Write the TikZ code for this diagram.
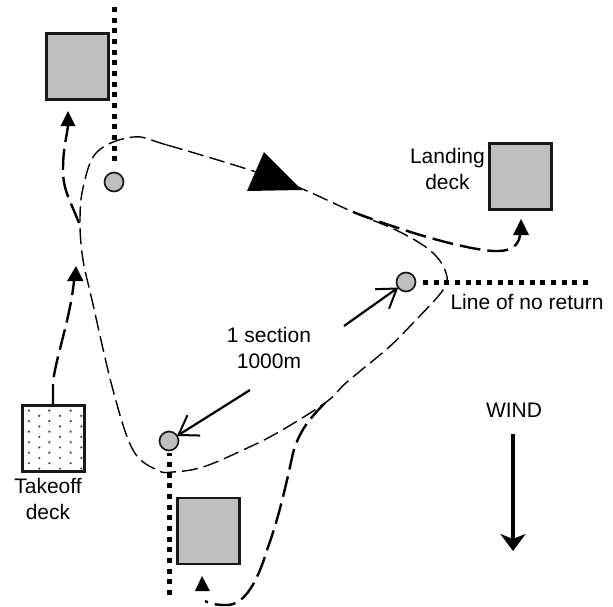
\documentclass[tikz,border=0pt]{standalone}
\usepackage{fontspec}
\setmainfont{Liberation Sans}
\usetikzlibrary{arrows.meta}
\tikzset{
  deck/.style={draw=black!90,line width=2.2pt,fill=black!25,minimum width=62pt,minimum height=66pt,inner sep=0pt,outer sep=0pt},
  tkoff/.style={draw=black!90,line width=2.2pt,minimum width=62pt,minimum height=66pt,inner sep=0pt,outer sep=0pt},
  pylon/.style={circle,draw=black!90,line width=1.7pt,fill=black!25,minimum size=19pt,inner sep=0pt,outer sep=0pt},
  dotline/.style={line width=5pt,dash pattern=on 5pt off 5.67pt},
  loopline/.style={line width=1.4pt,dash pattern=on 16pt off 6pt},
  flyline/.style={line width=2.4pt,dash pattern=on 21pt off 7pt},
  head/.style={fill=black},
  openarrow/.style={line width=2.2pt,-{Straight Barb[length=18pt,width=24pt,line width=2pt]}},
  lbl/.style={font=\fontsize{21}{25.5}\selectfont,align=center,inner sep=0pt}
}
\begin{document}
\begin{tikzpicture}[x=1pt,y=-1pt]
\useasboundingbox (0,0) rectangle (613,606);
% dotted lines
\coordinate (t1) at (114,7); \coordinate (r1) at (588,282); \coordinate (b1) at (169,595);
\draw[dotline,shorten >=5pt] (t1) -- (114,172);
\draw[dotline,shorten >=5pt] (r1) -- (416,282);
\draw[dotline,shorten >=2pt] (b1) -- (169,451);
\node[pylon] (pa) at (114,182) {};
\node[pylon] (pb) at (406,282) {};
\node[pylon] (pc) at (169,441) {};
% decks
\node[deck] (d1) at (77.5,66.5) {};
\node[deck] (d2) at (520.5,176.5) {};
\node[deck] (d3) at (208.5,531) {};
\begin{scope}
\clip (22,405) rectangle (85,472);
\foreach \k in {0,...,12}{
  \pgfmathsetmacro{\yy}{395+(31+15.8*\k)/3}
  \pgfmathtruncatemacro{\m}{mod(\k,2)}
  \ifnum\m=1
    \foreach \c in {29,49.3,70.7}{\fill[black!75] (\c,\yy) circle (1.2pt);}
  \else
    \foreach \c in {39.3,60,81.3}{\fill[black!75] (\c,\yy) circle (1.2pt);}
  \fi
}
\end{scope}
\node[tkoff] (d0) at (53.5,438.5) {};
% loop
\draw[loopline] plot[smooth cycle,tension=0.6] coordinates {
 (133,137) (167,145) (250,170) (300,188) (353,212) (400,232) (432,252) (446,273) (443,290) (413,323)
 (388,348) (347,382) (325,403) (277,433) (243,450) (203,467) (173,472) (157,470) (133,450) (113,390)
 (92,300) (83,260) (80,223) (83,188) (97,152)};
% flight paths
\draw[flyline] (53,405) -- (53,383) .. controls (55,360) and (70,320) .. (74,281);
\draw[flyline] (79,223) .. controls (70,200) and (63,190) .. (63,170) .. controls (63,150) and (66,140) .. (68,126);
\draw[flyline] (353,212) .. controls (390,226) and (440,243) .. (483,250) .. controls (505,253) and (518,250) .. (520,235);
\draw[flyline] (325,403) .. controls (308,420) and (299,432) .. (293,453) .. controls (285,490) and (278,520) .. (267,550) .. controls (258,580) and (245,605) .. (227,605) .. controls (217,605) and (210,604) .. (205,601);
\fill[head] (68,111) -- (75.5,126) -- (60.5,126) -- cycle;
\fill[head] (76,266) -- (83.5,281) -- (67,281) -- cycle;
\fill[head] (521,219) -- (529,235) -- (513,235) -- cycle;
\fill[head] (202,576) -- (210,591) -- (195,591) -- cycle;
\fill[head] (264,152) -- (302,190) -- (247,191) -- cycle;
% section arrows
\coordinate (sa) at (344,326); \coordinate (sb) at (250,390);
\draw[openarrow] (sa) -- (pb);
\draw[openarrow] (sb) -- (pc);
% wind
\coordinate (wa) at (513,434); \coordinate (wb) at (513,551);
\draw[line width=4pt,-{Stealth[length=17pt,width=25pt,inset=5pt]}] (wa) -- (wb);
% labels
\node[lbl,anchor=east] (l1) at (485,169) {Landing\\deck};
\node[lbl,anchor=center] (l2) at (527,302) {Line of no return};
\node[lbl] (l3) at (269,348) {1 section\\1000m};
\node[lbl] (l4) at (48,499) {Takeoff\\deck};
\node[lbl] (l5) at (514,410) {WIND};
\end{tikzpicture}
\end{document}
